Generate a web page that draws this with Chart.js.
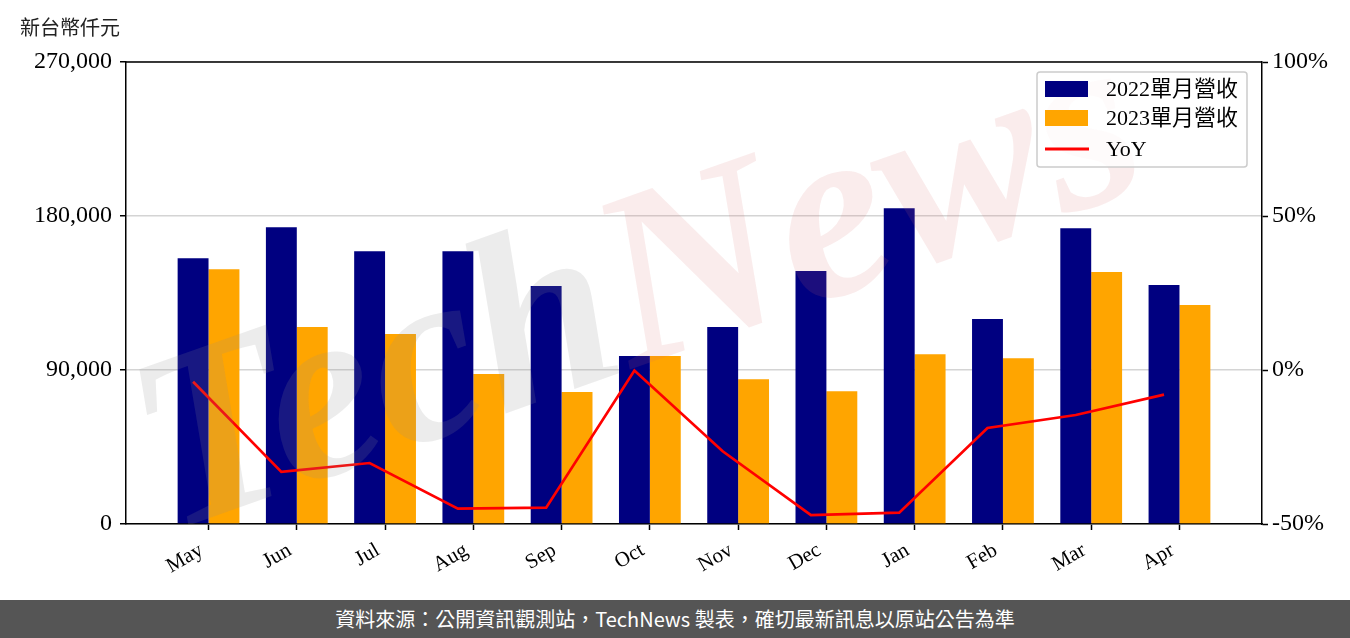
<!DOCTYPE html>
<html><head><meta charset="utf-8">
<script src="https://cdn.jsdelivr.net/npm/chart.js@4.4.1/dist/chart.umd.min.js"></script>
<style>
html,body{margin:0;padding:0;background:#fff;}
#wrap{position:relative;width:1350px;height:638px;overflow:hidden;background:#fff;}
#unit{position:absolute;left:20px;top:14px;font:20px 'Noto Sans CJK TC',sans-serif;color:#222;line-height:26px;}
#c{position:absolute;left:0;top:0;}
#footer{position:absolute;left:0;top:600px;width:1350px;height:38px;background:#555555;color:#fff;font:20px 'Noto Sans CJK TC',sans-serif;text-align:center;line-height:38px;}
</style></head>
<body>
<div id="wrap">
<canvas id="c" width="1350" height="600"></canvas>
<div id="unit">新台幣仟元</div>
<div id="footer">資料來源：公開資訊觀測站，TechNews 製表，確切最新訊息以原站公告為準</div>
</div>
<script>
const months = ['May','Jun','Jul','Aug','Sep','Oct','Nov','Dec','Jan','Feb','Mar','Apr'];
const rev2022 = [155360,173420,159440,159440,139050,98160,115170,147790,184490,119830,172840,139630];
const rev2023 = [148950,115170,111090,87670,77180,98160,84580,77590,99150,96820,147210,127980];
const yoy = [-3.8,-33.1,-30.2,-45.0,-44.7,-0.2,-26.4,-47.1,-46.3,-18.8,-14.6,-8.0];
const leftTicks = [0,90000,180000,270000];
const rightTicks = [-50,0,50,100];
const seriesNames = ['2022單月營收','2023單月營收','YoY'];

const serif = "'Liberation Serif','Noto Sans CJK TC',serif";
const GROUP = 0.7; // fraction of category width used by the bar pair

const framePlugin = {
  id:'frame',
  afterDraw(chart){
    const a = chart.chartArea, ctx = chart.ctx;
    ctx.save();
    ctx.strokeStyle = '#000'; ctx.lineWidth = 1.5;
    ctx.beginPath(); ctx.moveTo(a.left, a.top); ctx.lineTo(a.right, a.top); ctx.stroke();
    ctx.restore();
  }
};

const watermarkPlugin = {
  id:'watermark',
  afterDatasetsDraw(chart){
    const a = chart.chartArea, ctx = chart.ctx;
    ctx.save();
    ctx.beginPath(); ctx.rect(a.left, a.top, a.right-a.left, a.bottom-a.top); ctx.clip();
    ctx.translate(a.left + 515, a.top + 235);
    ctx.rotate(-0.34);
    ctx.font = "bold italic 250px 'Liberation Serif', serif";
    ctx.textBaseline = 'middle';
    const w1 = ctx.measureText('Tech').width, w2 = ctx.measureText('News').width;
    const start = -(w1+w2)/2;
    ctx.fillStyle = 'rgba(140,140,140,0.17)';
    ctx.fillText('Tech', start, 0);
    ctx.fillStyle = 'rgba(215,110,110,0.13)';
    ctx.fillText('News', start + w1, 0);
    ctx.restore();
  }
};

const legendPlugin = {
  id:'boxLegend',
  afterDraw(chart){
    const a = chart.chartArea, ctx = chart.ctx;
    const w = 210, h = 95;
    const x0 = a.right - 225, y0 = a.top + 10;
    ctx.save();
    ctx.fillStyle = 'rgba(255,255,255,0.8)';
    ctx.strokeStyle = '#cccccc'; ctx.lineWidth = 1.5;
    ctx.beginPath();
    if (ctx.roundRect) ctx.roundRect(x0, y0, w, h, 3); else ctx.rect(x0, y0, w, h);
    ctx.fill(); ctx.stroke();
    const ds = chart.data.datasets;
    const order = [1,2,0]; // dataset indices: 2022, 2023, YoY
    const rows = [17, 46, 77];
    ctx.font = '22px ' + serif;
    ctx.textBaseline = 'middle';
    order.forEach((di, r) => {
      const d = ds[di];
      const cy = y0 + rows[r];
      if (d.type === 'line') {
        ctx.strokeStyle = d.borderColor; ctx.lineWidth = 3;
        ctx.beginPath(); ctx.moveTo(x0+8, cy); ctx.lineTo(x0+52, cy); ctx.stroke();
      } else {
        ctx.fillStyle = d.backgroundColor;
        ctx.fillRect(x0+8, cy-8, 43, 16);
      }
      ctx.fillStyle = '#000';
      ctx.fillText(d.label, x0+69, cy+1);
    });
    ctx.restore();
  }
};

new Chart(document.getElementById('c'), {
  type:'bar',
  data:{
    datasets:[
      { type:'line', label:seriesNames[2], yAxisID:'y2', order:0,
        data: yoy.map((v,i)=>({x: i - GROUP/4, y: v})),
        borderColor:'#ff0000', backgroundColor:'#ff0000', borderWidth:2.7,
        pointRadius:0, tension:0, fill:false },
      { label:seriesNames[0], yAxisID:'y', order:1,
        data: rev2022.map((v,i)=>({x:i, y:v})),
        backgroundColor:'#000080', categoryPercentage:GROUP, barPercentage:1, borderWidth:0 },
      { label:seriesNames[1], yAxisID:'y', order:1,
        data: rev2023.map((v,i)=>({x:i, y:v})),
        backgroundColor:'#ffa500', categoryPercentage:GROUP, barPercentage:1, borderWidth:0 }
    ]
  },
  options:{
    responsive:false, animation:false,
    layout:{ padding:{ top:62, left:0, right:0, bottom:0 } },
    plugins:{ legend:{display:false}, tooltip:{enabled:false}, title:{display:false} },
    scales:{
      x:{
        type:'linear', offset:false, min:-0.935, max:months.length-1+0.935,
        afterBuildTicks: s => { s.ticks = months.map((m,i)=>({value:i})); },
        afterFit: s => { s.height = 76; },
        ticks:{ autoSkip:false, minRotation:30, maxRotation:30, padding:8, labelOffset:-7,
          font:{family:serif, size:21}, color:'#000',
          callback: v => months[v] },
        grid:{ offset:false, drawOnChartArea:false, tickLength:6, tickColor:'#000', tickWidth:1.5 },
        border:{ color:'#000', width:1.5 }
      },
      y:{
        position:'left', min:leftTicks[0], max:leftTicks[leftTicks.length-1],
        afterBuildTicks: s => { s.ticks = leftTicks.map(v=>({value:v})); },
        afterFit: s => { s.width = 126; },
        ticks:{ padding:8, font:{family:serif, size:24}, color:'#000',
          callback: v => v.toLocaleString('en-US') },
        grid:{ color:'#d4d4d4', lineWidth:1.5, tickLength:6, tickColor:'#000', tickWidth:1.5 },
        border:{ color:'#000', width:1.5 }
      },
      y2:{
        position:'right', min:rightTicks[0], max:rightTicks[rightTicks.length-1],
        afterBuildTicks: s => { s.ticks = rightTicks.map(v=>({value:v})); },
        afterFit: s => { s.width = 88; },
        ticks:{ padding:4, font:{family:serif, size:24}, color:'#000',
          callback: v => v + '%' },
        grid:{ drawOnChartArea:false, tickLength:6, tickColor:'#000', tickWidth:1.5 },
        border:{ color:'#000', width:1.5 }
      }
    }
  },
  plugins:[watermarkPlugin, framePlugin, legendPlugin]
});
</script>
</body></html>
